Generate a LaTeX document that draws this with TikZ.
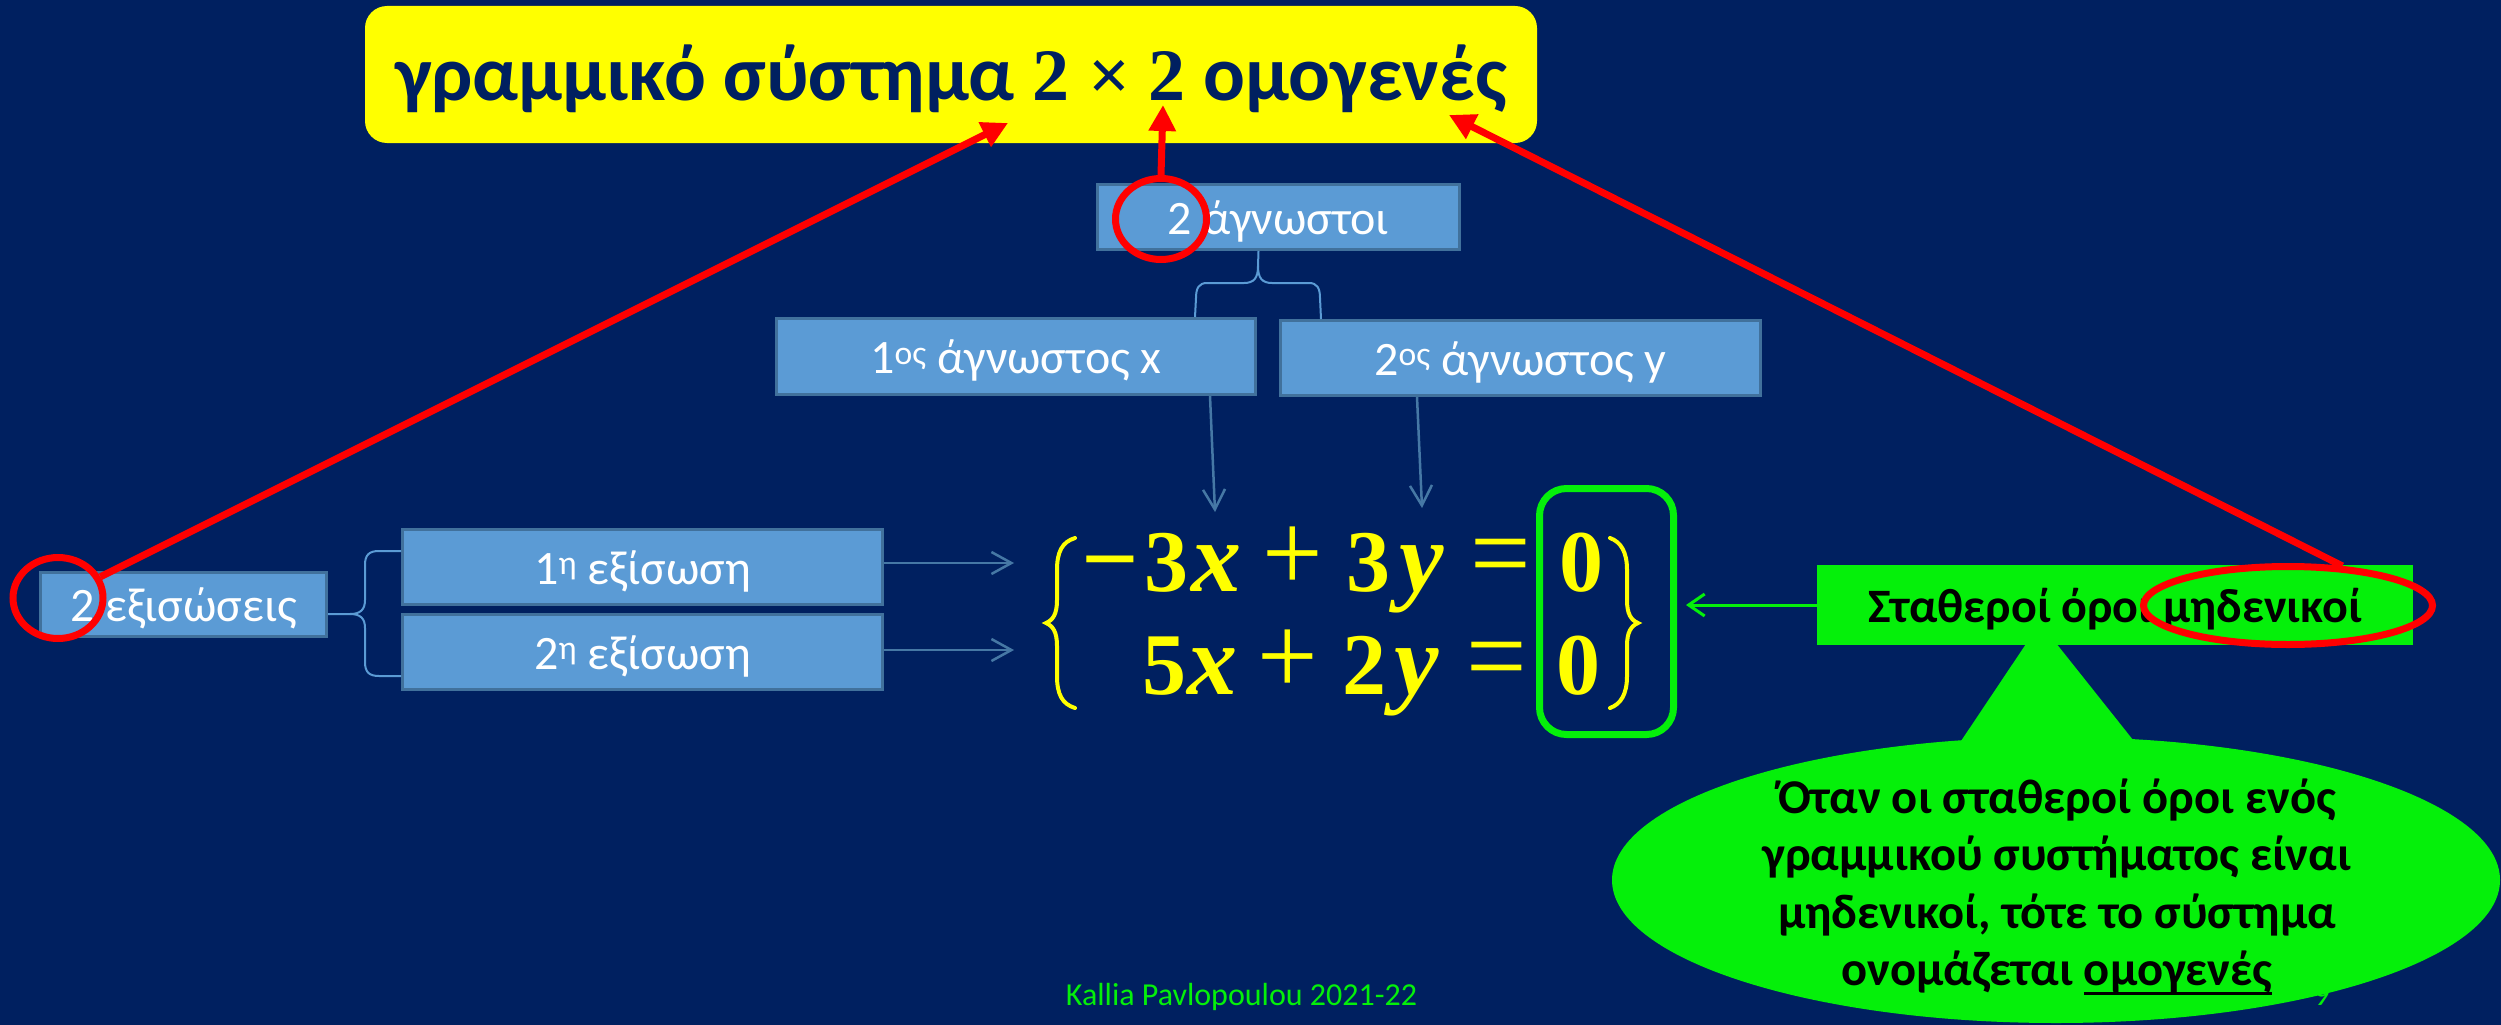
\documentclass[tikz,border=0pt]{standalone}
\usepackage{fontspec}
\usepackage{graphicx}
\setmainfont{Carlito}
\newfontfamily\eqfont{Liberation Serif}
\usetikzlibrary{arrows.meta,calc,shapes.geometric}
\definecolor{bgnavy}{RGB}{0,32,96}
\definecolor{boxblue}{RGB}{91,155,213}
\definecolor{boxedge}{RGB}{65,113,156}
\definecolor{arrblue}{RGB}{70,120,165}
\definecolor{grn}{RGB}{5,240,10}
\definecolor{ylw}{RGB}{255,255,0}
\definecolor{rd}{RGB}{255,0,0}
\newcommand\eqop[1]{\scalebox{1.22}[1.3]{\mdseries #1}}
\newcommand\eqvar[1]{{\fontsize{100}{110}\selectfont\itshape #1}}
\newsavebox\ulbox
\newcommand\myul[1]{\sbox\ulbox{#1}\rlap{\rule[-9pt]{\wd\ulbox}{3pt}}\usebox\ulbox}
\begin{document}
\begin{tikzpicture}[x=1pt,y=-1pt,
  sbox/.style={draw=boxedge, line width=3pt, fill=boxblue, text=white, inner sep=0pt,
    text height=34pt, text depth=0pt, font=\fontsize{48}{58}\selectfont},
  redring/.style={draw=rd, line width=7pt, ellipse, inner sep=0pt},
  redarrow/.style={draw=rd, line width=7pt, -{Triangle[length=26pt,width=26pt]}},
  brc/.style={draw=boxblue, line width=2pt},
  blarrow/.style={draw=arrblue, line width=2.5pt, -{Straight Barb[length=20pt,width=22pt]}},
  eqtxt/.style={text=ylw, inner sep=0pt, font=\eqfont\bfseries\fontsize{88}{100}\selectfont},
  ybrace/.style={draw=ylw, line width=4pt, line cap=round}]
\useasboundingbox (0,0) rectangle (2501,1025);
\fill[bgnavy] (0,0) rectangle (2501,1025);

% title
\node[fill=ylw, rounded corners=22pt, minimum width=1172pt, minimum height=137pt, inner sep=0pt,
  text=bgnavy, text height=51pt, text depth=0pt, font=\fontsize{78}{90}\selectfont\bfseries]
  (title) at (951,74.5) {γραμμικό σύστημα {\eqfont\fontsize{74}{90}\selectfont 2 × 2} ομογενές};

% blue boxes
\node[sbox, minimum width=362pt, minimum height=65pt] (agn) at (1278.5,217) {2 άγνωστοι};
\node[sbox, minimum width=479pt, minimum height=76pt] (x1) at (1016,356.5) {1\textsuperscript{ος} άγνωστος x};
\node[sbox, minimum width=480pt, minimum height=75pt] (y2) at (1520.5,358) {2\textsuperscript{ος} άγνωστος y};
\node[sbox, minimum width=286pt, minimum height=64pt] (eq2) at (183.5,604.5) {2 εξισώσεις};
\node[sbox, minimum width=480pt, minimum height=75pt] (e1) at (642.5,567) {1\textsuperscript{η} εξίσωση};
\node[sbox, minimum width=480pt, minimum height=75pt] (e2) at (642.5,652) {2\textsuperscript{η} εξίσωση};

% brace connectors (top)
\coordinate (stem) at ($(agn.south)+(-20,0)$);
\coordinate (lend) at ($(x1.north east)+(-62,0)$);
\coordinate (rend) at ($(y2.north west)+(42,0)$);
\draw[brc] (stem) -- (1258,266) .. controls (1258,278) and (1254,283) .. (1244,283) -- (1207,283)
  .. controls (1199,283) and (1196,288) .. (1196,298) -- (lend);
\draw[brc] (1258,266) .. controls (1258,278) and (1262,283) .. (1272,283) -- (1309,283)
  .. controls (1317,283) and (1320,288) .. (1320,298) -- (rend);

% brace connectors (left)
\coordinate (bt) at ($(e1.west)+(0,-16)$);
\coordinate (bb) at ($(e2.west)+(0,24)$);
\coordinate (bm) at ($(eq2.east)+(0,9.5)$);
\draw[brc] (bt) -- (379,551) .. controls (369,551) and (365,555) .. (365,565) -- (365,600)
  .. controls (365,610) and (360,614) .. (350,614) -- (bm);
\draw[brc] (bb) -- (379,676) .. controls (369,676) and (365,672) .. (365,662) -- (365,628)
  .. controls (365,618) and (360,614) .. (350,614);

% blue arrows
\coordinate (p1) at (1014,563);
\coordinate (p2) at (1014,650);
\draw[blarrow] ($(e1.east)+(0,-4)$) -- (p1);
\draw[blarrow] ($(e2.east)+(0,-2)$) -- (p2);
\coordinate (dxs) at ($(x1.south east)+(-47,0)$);
\coordinate (dxe) at (1215,512);
\coordinate (dys) at ($(y2.south west)+(138,0)$);
\coordinate (dye) at (1422,508);
\draw[blarrow] (dxs) -- (dxe);
\draw[blarrow] (dys) -- (dye);

% equations
\node[eqtxt, anchor=base west] (row1) at (1110,591) {\makebox[0pt]{\scalebox{1.15}[1.1]{−}}\hspace{56.5pt}\makebox[0pt]{3}\hspace{50pt}\makebox[0pt]{\eqvar{x}}\hspace{76pt}\makebox[0pt]{\eqop{+}}\hspace{75.5pt}\makebox[0pt]{3}\hspace{53pt}\makebox[0pt]{\eqvar{y}}\hspace{80pt}\makebox[0pt]{\eqop{=}}\hspace{80pt}\makebox[0pt]{0}};
\node[eqtxt, anchor=base west] (row2) at (1164,694) {\makebox[0pt]{5}\hspace{48pt}\makebox[0pt]{\eqvar{x}}\hspace{76pt}\makebox[0pt]{\eqop{+}}\hspace{76pt}\makebox[0pt]{2}\hspace{52pt}\makebox[0pt]{\eqvar{y}}\hspace{81pt}\makebox[0pt]{\eqop{=}}\hspace{81pt}\makebox[0pt]{0}};
\draw[ybrace] (1075,538) .. controls (1062,542) and (1057,552) .. (1057,570) -- (1057,600)
  .. controls (1057,614) and (1053,620) .. (1046,623) .. controls (1053,626) and (1057,632) .. (1057,646)
  -- (1057,676) .. controls (1057,694) and (1062,704) .. (1075,708);
\draw[ybrace] (1610,538) .. controls (1621,542) and (1627,552) .. (1627,570) -- (1627,600)
  .. controls (1627,614) and (1631,620) .. (1638,623) .. controls (1631,626) and (1627,632) .. (1627,646)
  -- (1627,676) .. controls (1627,694) and (1621,704) .. (1610,708);
\node[draw=grn, line width=7pt, rounded corners=27pt, minimum width=134pt, minimum height=246pt, inner sep=0pt]
  (gbox) at (1606.5,611.5) {};

% footer
\node[text=grn, inner sep=0pt, anchor=base, font=\fontsize{32}{38}\selectfont] (foot) at (1241.5,1005) {Kallia Pavlopoulou 2021-22};
\node[text=grn, inner sep=0pt, anchor=base, font=\fontsize{32}{38}\selectfont] (pnum) at (2322,1005) {9};

% callout bubble
\node[ellipse, fill=grn, minimum width=888pt, minimum height=286pt, inner sep=0pt] (bub) at (2056,880) {};
\fill[grn] (1955,750) -- (2040,623) -- (2141,750) -- cycle;
\node[inner sep=0pt, anchor=base, font=\fontsize{48.5}{57.5}\selectfont\bfseries] (bubtxt) at (2057,813)
  {\begin{tabular}[t]{@{}c@{}}Όταν οι σταθεροί όροι ενός\\ γραμμικού συστήματος είναι\\ μηδενικοί, τότε το σύστημα\\ ονομάζεται \myul{ομογενές}\end{tabular}};

% constant terms box
\node[fill=grn, minimum width=596pt, minimum height=80pt, inner sep=0pt, text height=34pt, text depth=0pt,
  font=\fontsize{48}{56}\selectfont\bfseries] (stath) at (2115,605) {Σταθεροί όροι μηδενικοί};
\draw[grn, line width=3pt, -{Straight Barb[length=16pt,width=22pt]}, shorten >=9pt] (stath.west) -- (stath.west -| gbox.east);

% red highlights
\node[redring, minimum width=90pt, minimum height=81pt] (r1) at (58,598) {};
\node[redring, minimum width=91pt, minimum height=81pt] (r2) at (1161,219) {};
\node[redring, minimum width=289pt, minimum height=78pt] (r3) at (2288,605.5) {};
\coordinate (t1) at (1008,123);
\coordinate (t2) at (1163,105);
\coordinate (t3) at (1449,115);
\draw[redarrow] (r1) -- (t1);
\draw[redarrow] (r2.north) -- (t2);
\draw[redarrow] (r3.36) -- (t3);
\end{tikzpicture}
\end{document}
